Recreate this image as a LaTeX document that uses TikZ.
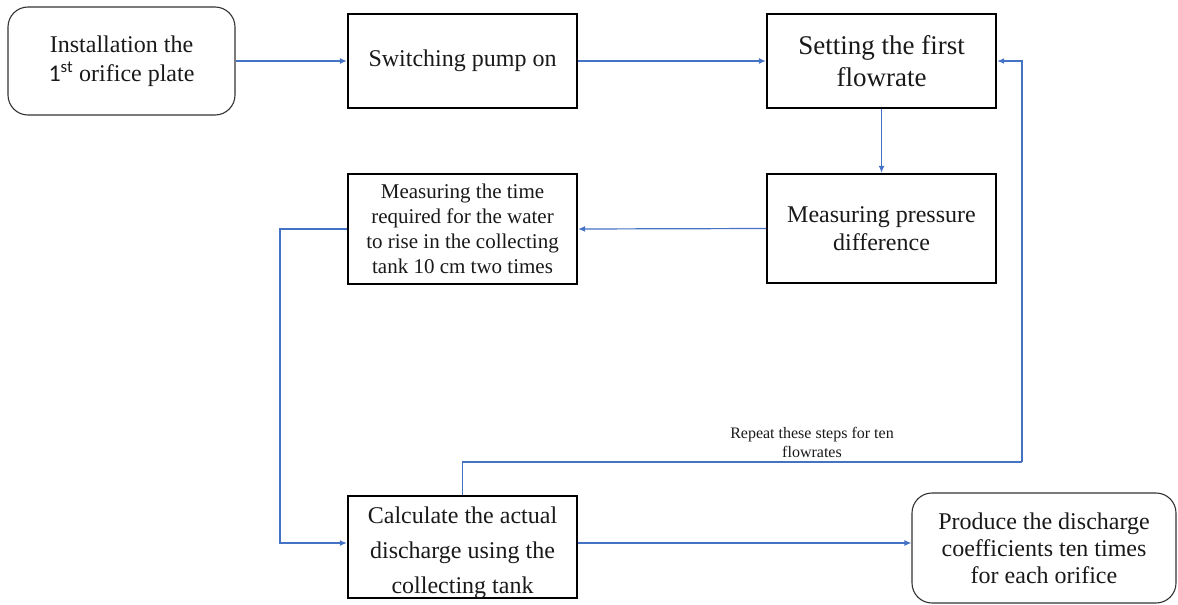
\documentclass[tikz,border=0pt]{standalone}
\usepackage{fontspec}
\setmainfont{Liberation Serif}
\newfontfamily\carlitofont{Carlito}
\usetikzlibrary{arrows.meta}
\definecolor{lineblue}{RGB}{68,114,196}
\definecolor{txt}{RGB}{25,25,25}
\tikzset{
  sqbox/.style={draw=black, line width=2.4pt, minimum width=229pt, text=txt, align=center, inner sep=0pt},
  rdbox/.style={draw=black!80, line width=1.1pt, rounded corners=20pt, text=txt, align=center, inner sep=0pt},
  conn/.style={draw=lineblue, line width=1.2pt, -{Latex[length=7pt,width=6pt]}},
  plain/.style={draw=lineblue, line width=1.2pt},
}
\begin{document}
\begin{tikzpicture}[x=1pt,y=-1pt]
\useasboundingbox (0,0) rectangle (1178,605);
\node[rdbox, minimum width=227pt, minimum height=108pt, font=\fontsize{24}{29}\selectfont] (n1) at (121.5,61) {Installation the\\{\carlitofont 1\textsuperscript{st}} orifice plate};
\node[sqbox, minimum height=94pt, font=\fontsize{24}{29}\selectfont] (n2) at (462.5,61) {Switching pump on};
\node[sqbox, minimum height=94pt, font=\fontsize{27}{32}\selectfont] (n3) at (881.5,61) {Setting the first\\flowrate};
\node[sqbox, minimum height=109pt, font=\fontsize{24}{28}\selectfont] (n4) at (881.5,228.5) {Measuring pressure\\difference};
\node[sqbox, minimum height=110pt, font=\fontsize{21}{25}\selectfont] (n5) at (462.5,229) {Measuring the time\\required for the water\\to rise in the collecting\\tank 10 cm two times};
\node[sqbox, minimum height=102pt] (n6) at (462.5,547) {};
\node[text=txt, align=center, inner sep=0pt, font=\fontsize{24}{35}\selectfont] (n6t) at (462.5,553) {Calculate the actual\\discharge using the\\collecting tank};
\node[rdbox, minimum width=264pt, minimum height=110pt, font=\fontsize{24}{27}\selectfont] (n7) at (1044,548) {Produce the discharge\\coefficients ten times\\for each orifice};
\node[text=txt, align=center, font=\fontsize{16}{19}\selectfont] (lab) at (812,442) {Repeat these steps for ten\\flowrates};
\coordinate (lx) at (280,0);
\coordinate (rc) at (1022,462);
\draw[conn] (n1.east) -- (n2.west);
\draw[conn] (n2.east) -- (n3.west);
\draw[conn] (n3.south) -- (n4.north);
\draw[conn] (n4.west) -- (n5.east);
\draw[conn] (n5.west) -- (n5.west -| lx) |- ([yshift=4pt]n6.west);
\draw[conn] ([yshift=4pt]n6.east) -- ([yshift=4pt]n6.east -| n7.west);
\draw[plain] (n6.north) |- (rc);
\draw[conn] (rc) |- (n3.east);
\end{tikzpicture}
\end{document}
